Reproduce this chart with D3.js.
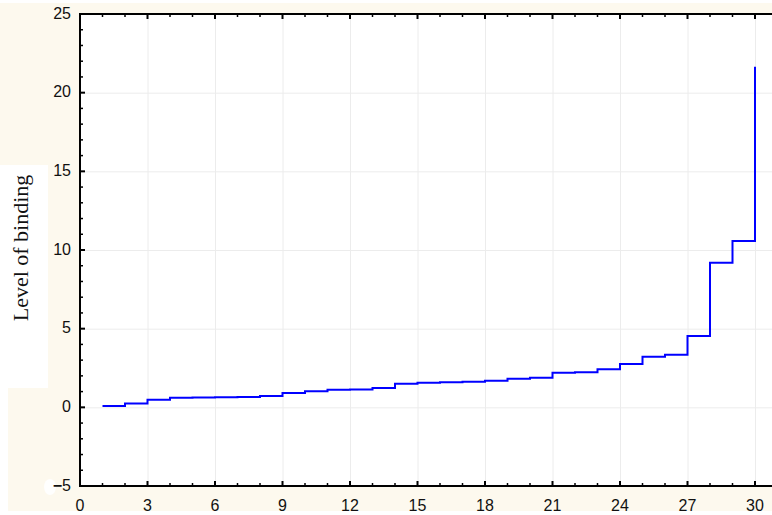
<!DOCTYPE html>
<html>
<head>
<meta charset="utf-8">
<script src="https://cdn.jsdelivr.net/npm/d3@7"></script>
<style>
    html, body { margin: 0; padding: 0; background: #ffffff; }
    svg { display: block; }
    .tick-label { font-family: "Liberation Sans", Arial, sans-serif; font-size: 16px; fill: #111; }
    .axis-title { font-family: "Liberation Serif", "Times New Roman", serif; font-size: 22px; fill: #111; }
</style>
</head>
<body>
<svg id="chart" width="772" height="515"></svg>
<script>
/*global d3*/
var ranks = [1, 2, 3, 4, 5, 6, 7, 8, 9, 10, 11, 12, 13, 14, 15,
    16, 17, 18, 19, 20, 21, 22, 23, 24, 25, 26, 27, 28, 29, 30];
var bindingLevels = [0.08, 0.25, 0.48, 0.61, 0.63, 0.64, 0.65, 0.72, 0.91, 1.02,
    1.12, 1.14, 1.23, 1.50, 1.56, 1.59, 1.63, 1.69, 1.82, 1.88,
    2.20, 2.23, 2.42, 2.75, 3.22, 3.35, 4.53, 9.19, 10.57, 21.65];
var xTickLabels = [0, 3, 6, 9, 12, 15, 18, 21, 24, 27, 30];
var yTickLabels = [-5, 0, 5, 10, 15, 20, 25];
var yTitle = 'Level of binding';

(function (d3) {
    'use strict';

    var CREAM = '#fdf9ee',
        svg = d3.select('#chart'),
        left = 80,
        top = 14,
        bottom = 486,
        width = 772,
        x = d3.scaleLinear().domain([0, 30]).range([left, 755]),
        y = d3.scaleLinear().domain([-5, 25]).range([bottom, top]),
        minorX = d3.range(0, 31, 1),
        minorY = d3.range(-5, 26, 1),
        points = ranks.map(function (r, i) { return [r, bindingLevels[i]]; }),
        line,
        plot;

    // frame background
    svg.append('rect').attr('x', 0).attr('y', 3).attr('width', width).attr('height', 508).attr('fill', CREAM);
    svg.append('rect').attr('x', 0).attr('y', 388).attr('width', 8).attr('height', 127).attr('fill', '#ffffff');
    svg.append('rect').attr('x', 0).attr('y', 165).attr('width', 48).attr('height', 223).attr('fill', '#ffffff');

    // plot area
    svg.append('rect').attr('x', left).attr('y', top).attr('width', width - left).attr('height', bottom - top).attr('fill', '#ffffff');

    svg.append('defs').append('clipPath').attr('id', 'plot-clip')
        .append('rect').attr('x', left).attr('y', top).attr('width', width - left).attr('height', bottom - top);
    plot = svg.append('g').attr('clip-path', 'url(#plot-clip)');

    plot.selectAll('.grid-x').data(xTickLabels.slice(1)).enter().append('line')
        .attr('x1', function (d) { return x(d) + 0.5; })
        .attr('x2', function (d) { return x(d) + 0.5; })
        .attr('y1', top).attr('y2', bottom)
        .attr('stroke', '#ececec').attr('stroke-width', 1);
    plot.selectAll('.grid-y').data(yTickLabels.slice(1, -1)).enter().append('line')
        .attr('x1', left).attr('x2', width)
        .attr('y1', function (d) { return y(d) + 0.5; })
        .attr('y2', function (d) { return y(d) + 0.5; })
        .attr('stroke', '#ececec').attr('stroke-width', 1);

    line = d3.line()
        .x(function (d) { return x(d[0]); })
        .y(function (d) { return y(d[1]); })
        .curve(d3.curveStepAfter);
    plot.append('path').datum(points)
        .attr('d', line)
        .attr('fill', 'none')
        .attr('stroke', '#0000ff')
        .attr('stroke-width', 2);

    // ticks: minor every unit, longer on labelled values
    svg.selectAll('.tick-bottom').data(minorX).enter().append('line')
        .attr('x1', function (d) { return x(d); })
        .attr('x2', function (d) { return x(d); })
        .attr('y1', bottom)
        .attr('y2', function (d) { return bottom - (d % 3 === 0 ? 5 : 3); })
        .attr('stroke', '#000').attr('stroke-width', function (d) { return d % 3 === 0 ? 2 : 1.5; });
    svg.selectAll('.tick-top').data(minorX).enter().append('line')
        .attr('x1', function (d) { return x(d); })
        .attr('x2', function (d) { return x(d); })
        .attr('y1', top)
        .attr('y2', function (d) { return top + (d % 3 === 0 ? 5 : 3); })
        .attr('stroke', '#000').attr('stroke-width', function (d) { return d % 3 === 0 ? 2 : 1.5; });
    svg.selectAll('.tick-left').data(minorY).enter().append('line')
        .attr('x1', left)
        .attr('x2', function (d) { return left + (d % 5 === 0 ? 5 : 3); })
        .attr('y1', function (d) { return y(d); })
        .attr('y2', function (d) { return y(d); })
        .attr('stroke', '#000').attr('stroke-width', function (d) { return d % 5 === 0 ? 2 : 1.5; });

    // axis lines
    svg.append('path')
        .attr('d', 'M' + width + ',' + top + 'H' + left + 'V' + bottom + 'H' + width)
        .attr('fill', 'none').attr('stroke', '#000').attr('stroke-width', 2);

    // tick labels
    svg.selectAll('.x-label').data(xTickLabels).enter().append('text')
        .attr('class', 'tick-label')
        .attr('x', function (d) { return x(d); })
        .attr('y', 511)
        .attr('text-anchor', 'middle')
        .text(function (d) { return d; });

    svg.append('ellipse').attr('cx', 50).attr('cy', 487).attr('rx', 6).attr('ry', 8)
        .attr('fill', '#ffffff').attr('opacity', 0.9);
    svg.selectAll('.y-label').data(yTickLabels).enter().append('text')
        .attr('class', 'tick-label')
        .attr('x', 71)
        .attr('y', function (d) { return y(d) - 1; })
        .attr('dy', '0.35em')
        .attr('text-anchor', 'end')
        .each(function (d) {
            var t = d3.select(this);
            if (d < 0) {
                t.append('tspan').attr('font-weight', 'bold').text('\u2212');
                t.append('tspan').text(Math.abs(d));
            } else {
                t.text(d);
            }
        });

    svg.append('text')
        .attr('class', 'axis-title')
        .attr('transform', 'translate(27.5,248) rotate(-90)')
        .attr('text-anchor', 'middle')
        .text(yTitle);
}(window.d3));
</script>
</body>
</html>
